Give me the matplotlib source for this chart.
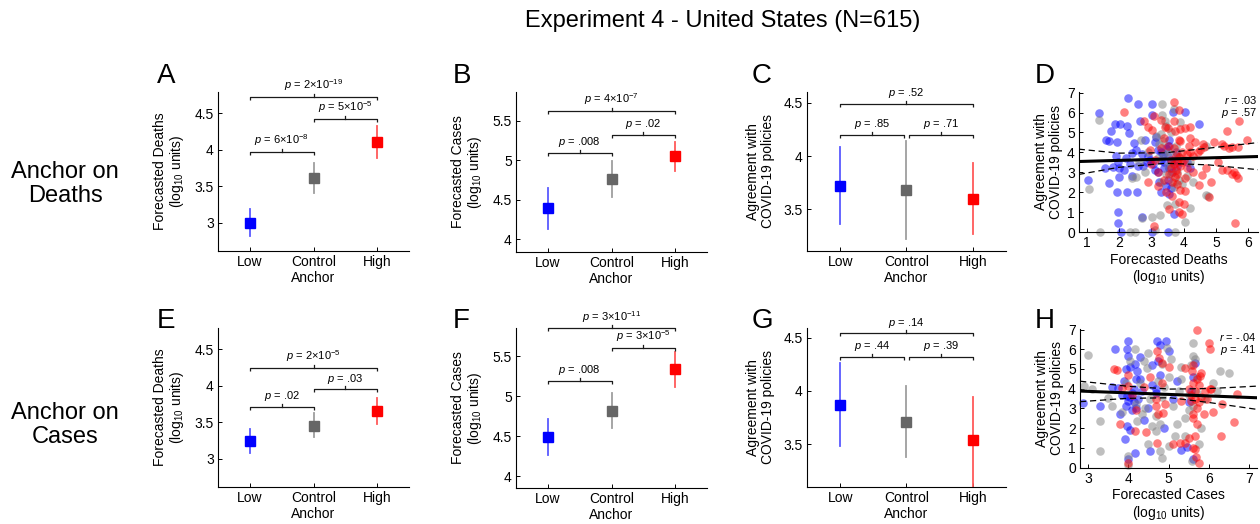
import matplotlib
matplotlib.use("Agg")
import matplotlib.pyplot as plt
import numpy as np

plt.rcParams['font.family'] = ['Liberation Sans', 'DejaVu Sans']
plt.rcParams['mathtext.fontset'] = 'custom'
plt.rcParams['mathtext.rm'] = 'Liberation Sans'
plt.rcParams['mathtext.it'] = 'Liberation Sans:italic'
plt.rcParams['mathtext.bf'] = 'Liberation Sans:bold'

# ---------------- data ----------------
categories = ['Low', 'Control', 'High']

A_mean = [3.00, 3.61, 4.11]; A_lo = [2.82, 3.40, 3.89]; A_hi = [3.18, 3.82, 4.33]
B_mean = [4.39, 4.76, 5.05]; B_lo = [4.13, 4.53, 4.86]; B_hi = [4.65, 4.99, 5.23]
C_mean = [3.72, 3.68, 3.60]; C_lo = [3.36, 3.22, 3.27]; C_hi = [4.08, 4.14, 3.93]
E_mean = [3.24, 3.45, 3.65]; E_lo = [3.08, 3.29, 3.47]; E_hi = [3.40, 3.62, 3.83]
F_mean = [4.49, 4.82, 5.34]; F_lo = [4.26, 4.60, 5.12]; F_hi = [4.72, 5.04, 5.55]
G_mean = [3.87, 3.71, 3.54]; G_lo = [3.48, 3.38, 3.08]; G_hi = [4.26, 4.05, 3.94]

# p-value labels: (Low-Control, Control-High, Low-High) and bracket heights
A_p = [r'$\it{p}$ = 6×10$^{-8}$', r'$\it{p}$ = 5×10$^{-5}$', r'$\it{p}$ = 2×10$^{-19}$']
A_py = [3.97, 4.42, 4.72]
B_p = [r'$\it{p}$ = .008', r'$\it{p}$ = .02', r'$\it{p}$ = 4×10$^{-7}$']
B_py = [5.09, 5.32, 5.62]
C_p = [r'$\it{p}$ = .85', r'$\it{p}$ = .71', r'$\it{p}$ = .52']
C_py = [4.20, 4.20, 4.49]
E_p = [r'$\it{p}$ = .02', r'$\it{p}$ = .03', r'$\it{p}$ = 2×10$^{-5}$']
E_py = [3.71, 3.95, 4.24]
F_p = [r'$\it{p}$ = .008', r'$\it{p}$ = 3×10$^{-5}$', r'$\it{p}$ = 3×10$^{-11}$']
F_py = [5.19, 5.61, 5.85]
G_p = [r'$\it{p}$ = .44', r'$\it{p}$ = .39', r'$\it{p}$ = .14']
G_py = [4.32, 4.32, 4.54]

# Scatter D: forecasted deaths vs agreement
D_low_x = [1.03, 1.37, 1.56, 1.59, 1.68, 1.70, 1.74, 1.80, 1.87, 1.95, 1.95, 1.97, 1.97, 2.00, 2.00, 1.98, 2.02, 2.06,
           2.21, 2.26, 2.26, 2.28, 2.31, 2.41, 2.47, 2.52, 2.57, 2.59, 2.65, 2.72, 2.75, 2.85, 2.90, 3.01, 3.01, 3.01,
           3.05, 3.15, 3.20, 3.30, 3.40, 3.45, 3.50, 3.56, 3.56, 3.60, 3.60, 3.50, 3.67, 3.70, 3.75, 3.80, 4.03, 4.10,
           4.20, 4.48, 2.15, 2.35, 1.90, 2.60, 3.25, 3.35, 3.65, 3.10,
           3.30, 3.40, 3.50, 3.55, 3.45, 3.20, 2.95, 3.10, 2.70, 3.55, 3.30, 2.40, 2.80, 3.70]
D_low_y = [2.60, 6.00, 3.20, 4.64, 2.44, 4.58, 5.09, 3.28, 5.43, 4.50, 2.01, 1.00, 0.44, 3.20, 2.77, 3.54, 5.43, 0.00,
           3.70, 5.31, 2.01, 6.72, 4.98, 3.96, 4.47, 4.10, 2.01, 6.41, 5.57, 0.74, 3.30, 3.50, 3.80, 6.41, 5.90, 0.00,
           3.40, 4.75, 3.00, 3.60, 3.20, 4.20, 3.80, 4.64, 4.30, 3.50, 2.20, 0.00, 6.02, 0.91, 4.00, 3.30, 6.04, 3.50,
           3.20, 5.43, 3.10, 3.40, 3.80, 3.30, 2.50, 3.90, 3.00, 4.50,
           4.00, 3.50, 2.60, 3.20, 2.30, 4.10, 3.60, 3.10, 3.90, 1.90, 2.00, 2.80, 4.60, 3.60]
D_ctl_x = [1.08, 1.37, 1.41, 2.33, 2.50, 2.52, 2.69, 2.62, 3.01, 3.28, 3.32, 3.32, 3.42, 3.30, 3.36, 3.49, 3.69, 3.72,
           3.73, 3.70, 3.80, 3.60, 3.90, 4.03, 4.21, 4.69, 3.10, 3.20, 3.45, 3.75, 3.85, 2.90, 4.70, 4.75, 3.60, 3.90,
           2.80, 4.10, 3.55, 3.30,
           3.40, 3.50, 3.60, 3.70, 3.80, 3.25, 3.15, 3.45, 3.95, 4.30, 4.20, 2.40, 2.70]
D_ctl_y = [2.18, 5.60, 0.00, 0.00, 0.00, 2.77, 4.64, 3.50, 0.74, 0.86, 6.41, 5.87, 5.57, 4.92, 4.55, 1.34, 2.27, 1.42,
           0.00, 6.20, 3.00, 3.40, 3.70, 0.49, 1.20, 1.84, 0.10, 3.70, 2.90, 4.30, 2.60, 4.00, 4.30, 1.80, 5.00, 5.50,
           3.00, 2.80, 4.00, 2.50,
           3.90, 3.30, 2.90, 2.50, 3.90, 4.40, 4.80, 5.30, 2.40, 2.50, 3.50, 2.70, 0.70]
D_high_x = [2.16, 2.77, 2.91, 3.03, 3.08, 3.42, 3.46, 3.56, 3.70, 3.70, 3.74, 3.87, 3.88, 3.90, 3.85, 3.95, 4.05, 4.05,
            4.19, 4.19, 4.34, 4.48, 4.57, 4.64, 4.69, 4.77, 4.95, 5.18, 5.20, 5.33, 5.33, 5.49, 5.51, 5.59, 5.61, 5.67,
            5.69, 5.71, 5.95, 3.08, 2.89, 3.20, 3.40, 3.73, 3.80, 3.90, 3.80, 3.90, 4.00, 4.10, 4.20, 3.75, 3.95, 3.60,
            3.20, 3.00, 2.95, 3.50, 4.30, 4.45, 3.40, 3.85, 4.00, 3.65, 4.10, 3.30,
            3.60, 3.70, 3.75, 3.80, 3.85, 3.95, 3.65, 3.55, 4.05, 4.15, 4.30, 4.50, 3.70, 3.85, 3.50, 3.30, 3.10,
            4.60, 4.85, 5.05, 5.25, 5.55, 5.40]
D_high_y = [6.02, 5.57, 5.26, 5.14, 5.82, 5.26, 2.01, 1.17, 6.55, 5.57, 5.09, 6.11, 4.58, 5.18, 1.51, 0.91, 5.23, 2.05,
            5.26, 4.72, 4.50, 2.35, 2.86, 4.25, 3.20, 1.76, 4.50, 3.11, 4.41, 5.06, 3.11, 2.89, 4.25, 0.46, 2.86, 4.28,
            2.69, 5.57, 4.62, 0.32, 2.52, 2.30, 2.60, 2.77, 2.40, 2.10, 3.50, 3.30, 3.60, 3.90, 4.00, 3.80, 4.00, 3.20,
            3.00, 3.40, 4.10, 4.30, 3.00, 4.00, 4.70, 1.00, 1.40, 1.80, 3.20, 5.60,
            3.60, 3.40, 3.10, 2.90, 3.75, 3.50, 2.50, 2.90, 2.70, 4.30, 3.80, 4.10, 4.20, 4.60, 5.20, 4.20, 3.60,
            4.40, 2.50, 3.50, 4.30, 3.00, 4.20]
D_fit_x = [0.75, 6.30]
D_fit_y = [3.54, 3.79]
D_band_x = [0.75, 2.00, 3.44, 4.77, 6.30]
D_band_hi = [4.16, 3.96, 3.98, 4.21, 4.49]
D_band_lo = [2.89, 3.25, 3.45, 3.37, 3.13]

# Scatter H: forecasted cases vs agreement
H_low_x = [2.87, 3.29, 3.67, 3.75, 3.96, 4.00, 4.00, 4.17, 4.21, 4.29, 3.96, 3.79, 3.96, 3.92, 4.00, 4.17, 4.71, 4.94,
           5.21, 5.62, 4.54, 4.50, 4.60, 4.00, 4.10, 4.20, 3.85, 3.90, 4.05, 4.30, 4.80, 4.70, 4.90, 5.10, 5.50, 5.60,
           5.00, 4.40, 3.95, 4.15, 4.60, 5.45, 5.30, 3.60, 4.25,
           4.05, 4.10, 4.20, 4.15, 4.70, 4.75, 4.80, 3.95, 4.35, 5.55, 5.65, 4.05]
H_low_y = [3.29, 3.12, 5.99, 4.05, 5.99, 6.41, 5.65, 5.23, 4.89, 4.47, 3.63, 2.70, 2.11, 1.43, 0.42, 0.76, 6.41, 6.41,
           4.38, 0.42, 0.84, 3.04, 4.20, 3.40, 3.80, 3.00, 3.70, 4.40, 5.10, 5.60, 4.70, 3.80, 2.00, 3.50, 3.30, 4.60,
           5.90, 2.40, 3.10, 4.00, 5.20, 1.05, 0.90, 4.10, 3.50,
           3.60, 2.90, 4.50, 3.30, 4.00, 5.40, 6.20, 5.00, 3.90, 3.90, 5.30, 1.90]
H_ctl_x = [3.00, 2.89, 3.29, 3.29, 3.50, 4.17, 4.04, 4.38, 4.46, 4.96, 4.83, 5.62, 5.62, 6.28, 6.20, 5.42, 5.58, 4.48,
           4.68, 4.21, 4.42, 5.21, 5.40, 5.10, 4.85, 4.00, 4.00, 5.00, 4.80, 4.60, 4.75, 5.30, 5.55, 5.70, 5.90, 6.50,
           3.10, 3.60, 4.30, 4.90, 5.50, 5.80, 6.10, 4.55, 5.05, 5.15,
           4.20, 4.35, 4.70, 4.80, 4.85, 5.00, 5.25, 5.50, 5.60, 5.70, 5.65, 5.75, 3.95, 3.85, 4.50, 5.30]
H_ctl_y = [5.70, 4.13, 2.36, 0.84, 3.54, 5.99, 5.40, 5.40, 5.06, 6.07, 5.23, 6.32, 5.65, 4.89, 3.90, 1.60, 0.34, 1.18,
           1.85, 2.36, 3.04, 2.19, 2.50, 3.10, 3.60, 0.60, 0.15, 1.10, 0.85, 2.10, 4.40, 4.50, 5.20, 3.80, 3.50, 4.80,
           4.00, 3.10, 4.30, 4.10, 2.90, 2.00, 4.30, 3.50, 5.50, 1.60,
           3.20, 2.70, 2.60, 2.20, 0.50, 4.60, 3.90, 3.70, 3.10, 4.60, 5.50, 1.20, 4.30, 2.80, 5.80, 5.10]
H_high_x = [3.71, 4.00, 4.00, 3.79, 4.00, 4.17, 4.71, 4.77, 5.42, 5.71, 6.00, 6.04, 5.58, 5.79, 6.04, 6.33, 6.71, 6.63,
            6.31, 5.88, 5.62, 5.62, 5.67, 5.69, 5.77, 5.42, 5.29, 5.12, 4.71, 4.75, 4.87, 4.92, 5.30, 5.55, 5.67, 5.75,
            5.60, 5.70, 5.80, 4.20, 4.40, 3.65, 3.85, 4.85, 5.00, 4.70, 5.60, 6.05, 5.90, 4.45, 5.50,
            5.55, 5.65, 5.75, 5.70, 5.60, 5.80, 5.50, 5.65, 4.85, 4.70, 5.95, 6.10, 4.10, 4.55, 5.70]
H_high_y = [4.97, 4.72, 4.13, 2.19, 0.25, 1.85, 5.90, 5.56, 5.06, 7.00, 6.32, 5.99, 4.89, 4.64, 3.96, 3.20, 3.71, 2.30,
            1.60, 2.70, 2.70, 1.01, 0.93, 0.51, 0.25, 1.26, 1.26, 1.21, 1.26, 2.70, 2.78, 3.20, 3.40, 3.40, 3.90, 4.20,
            4.30, 3.00, 3.60, 2.90, 4.10, 5.00, 4.05, 4.30, 5.10, 3.50, 2.50, 4.00, 3.90, 1.80, 4.00,
            3.70, 3.50, 3.30, 4.50, 5.20, 4.80, 1.50, 1.60, 5.30, 3.10, 3.50, 2.80, 3.70, 4.60, 2.20]
H_fit_x = [2.80, 7.20]
H_fit_y = [3.88, 3.54]
H_band_x = [2.80, 3.96, 5.04, 6.04, 7.20]
H_band_hi = [4.38, 4.13, 3.98, 4.01, 4.13]
H_band_lo = [3.34, 3.51, 3.54, 3.29, 2.95]

# ---------------- styling ----------------
W, H = 1260, 524
fig = plt.figure(figsize=(W / 100, H / 100), dpi=100)

marker_cols = [(0, 0, 1), (0.4, 0.4, 0.4), (1, 0, 0)]
err_cols = [(0.35, 0.35, 1), (0.62, 0.62, 0.62), (1, 0.35, 0.35)]
scat_cols = [(0, 0, 1), (0.5, 0.5, 0.5), (1, 0, 0)]
FS = 10


def add_ax(left, top, right, bottom):
    return fig.add_axes([left / W, 1 - bottom / H, (right - left) / W, (bottom - top) / H])


def style(ax):
    for s in ['top', 'right']:
        ax.spines[s].set_visible(False)
    for s in ['left', 'bottom']:
        ax.spines[s].set_linewidth(0.8)
    ax.tick_params(direction='in', length=3, width=0.7, labelsize=FS, pad=3)


def bracket(ax, x1, x2, y, label, hpx):
    ylo, yhi = ax.get_ylim()
    d = (yhi - ylo) * 3.0 / hpx
    col = '0.1'
    ax.plot([x1, x1, x2, x2], [y - d, y, y, y - d], color=col, lw=0.9, clip_on=False,
            solid_capstyle='butt')
    xm = (x1 + x2) / 2
    ax.plot([xm, xm], [y, y + d], color=col, lw=0.9, clip_on=False)
    ax.annotate(label, xy=(xm, y + d), xytext=(0, 0.5), textcoords='offset points',
                ha='center', va='bottom', fontsize=8, annotation_clip=False)


def cat_panel(box, mean, lo, hi, ylim, yticks, ylabel, plabels, pys, gap=0.0):
    ax = add_ax(*box)
    style(ax)
    xs = np.arange(1, 4)
    for i in range(3):
        ax.plot([xs[i], xs[i]], [lo[i], hi[i]], color=err_cols[i], lw=1.3, zorder=2)
        ax.plot(xs[i], mean[i], marker='s', ms=7.3, color=marker_cols[i], mec=marker_cols[i],
                lw=0, zorder=3)
    ax.set_xlim(0.5, 3.5)
    ax.set_ylim(*ylim)
    ax.set_xticks(xs)
    ax.set_xticklabels(categories)
    ax.set_yticks(yticks)
    ax.set_yticklabels([('%g' % t) for t in yticks])
    ax.set_xlabel('Anchor', fontsize=FS, labelpad=1)
    ax.set_ylabel(ylabel, fontsize=FS, labelpad=6, linespacing=1.1)
    hpx = box[3] - box[1]
    bracket(ax, 1, 2 - gap, pys[0], plabels[0], hpx)
    bracket(ax, 2 + gap, 3, pys[1], plabels[1], hpx)
    bracket(ax, 1, 3, pys[2], plabels[2], hpx)
    return ax


def scat_panel(box, xs_list, ys_list, xlim, xticks, xlabel, fitx, fity, bx, bhi, blo, rtxt, ptxt):
    ax = add_ax(*box)
    style(ax)
    for xs, ys, c in zip(xs_list, ys_list, scat_cols):
        ax.scatter(xs, ys, s=38, color=c, alpha=0.5, linewidths=0, zorder=2, clip_on=False)
    ax.plot(fitx, fity, color='k', lw=2.2, zorder=4)
    ax.plot(bx, bhi, color='k', lw=0.9, ls=(0, (5, 3)), zorder=4)
    ax.plot(bx, blo, color='k', lw=0.9, ls=(0, (5, 3)), zorder=4)
    ax.set_xlim(*xlim)
    ax.set_ylim(0, 7.03)
    ax.set_xticks(xticks)
    ax.set_yticks(range(0, 8))
    ax.set_xlabel(xlabel, fontsize=FS, labelpad=2, linespacing=1.1)
    ax.set_ylabel('Agreement with\nCOVID-19 policies', fontsize=FS, labelpad=3, linespacing=1.1)
    ax.text(0.995, 0.985, rtxt, transform=ax.transAxes, ha='right', va='top', fontsize=8)
    ax.text(0.995, 0.90, ptxt, transform=ax.transAxes, ha='right', va='top', fontsize=8)
    return ax


deaths_lab = 'Forecasted Deaths\n(log$_{10}$ units)'
cases_lab = 'Forecasted Cases\n(log$_{10}$ units)'
agree_lab = 'Agreement with\nCOVID-19 policies'

cat_panel((218, 92, 409, 251), A_mean, A_lo, A_hi, (2.61, 4.79), [3, 3.5, 4, 4.5], deaths_lab, A_p, A_py)
cat_panel((516, 92, 707, 252), B_mean, B_lo, B_hi, (3.84, 5.86), [4, 4.5, 5, 5.5], cases_lab, B_p, B_py)
cat_panel((807, 92, 1006, 251), C_mean, C_lo, C_hi, (3.11, 4.60), [3.5, 4, 4.5], agree_lab, C_p, C_py, gap=0.04)
cat_panel((218, 328, 409, 487), E_mean, E_lo, E_hi, (2.61, 4.79), [3, 3.5, 4, 4.5], deaths_lab, E_p, E_py)
cat_panel((516, 328, 707, 488), F_mean, F_lo, F_hi, (3.85, 5.855), [4, 4.5, 5, 5.5], cases_lab, F_p, F_py)
cat_panel((807, 328, 1006, 487), G_mean, G_lo, G_hi, (3.10, 4.59), [3.5, 4, 4.5], agree_lab, G_p, G_py, gap=0.04)

scat_panel((1079, 92, 1258, 232), [D_low_x, D_ctl_x, D_high_x], [D_low_y, D_ctl_y, D_high_y],
           (0.76, 6.3), [1, 2, 3, 4, 5, 6], deaths_lab, D_fit_x, D_fit_y, D_band_x, D_band_hi, D_band_lo,
           r'$\it{r}$ = .03', r'$\it{p}$ = .57')
scat_panel((1080, 329, 1257, 467.5), [H_low_x, H_ctl_x, H_high_x], [H_low_y, H_ctl_y, H_high_y],
           (2.8, 7.2), [3, 4, 5, 6, 7], cases_lab, H_fit_x, H_fit_y, H_band_x, H_band_hi, H_band_lo,
           r'$\it{r}$ = -.04', r'$\it{p}$ = .41')

# panel letters
for letter, x, y in [('A', 157, 83), ('B', 453, 83), ('C', 752, 83), ('D', 1035, 83),
                     ('E', 157, 328), ('F', 453, 328), ('G', 752, 328), ('H', 1035, 328)]:
    fig.text(x / W, 1 - y / H, letter, fontsize=20, ha='left', va='baseline')

fig.text(723 / W, 1 - 21 / H, 'Experiment 4 - United States (N=615)', fontsize=17, ha='center', va='center')
fig.text(65 / W, 1 - 184 / H, 'Anchor on\nDeaths', fontsize=17, ha='center', va='center', linespacing=1.15)
fig.text(65 / W, 1 - 425 / H, 'Anchor on\nCases', fontsize=17, ha='center', va='center', linespacing=1.15)

fig.savefig('out.png', dpi=100)
